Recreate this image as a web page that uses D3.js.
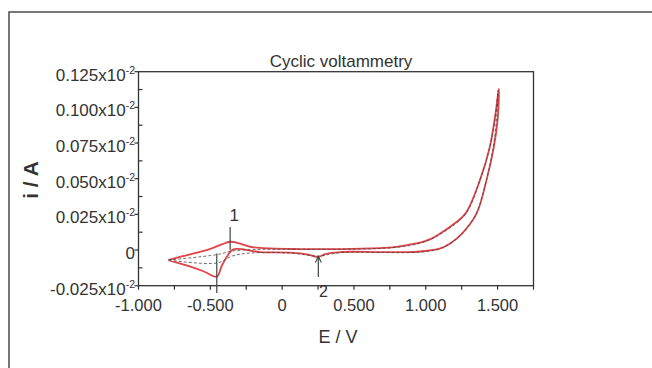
<!DOCTYPE html>
<html><head><meta charset="utf-8">
<script src="https://cdn.jsdelivr.net/npm/d3@7"></script>
<style>
html,body{margin:0;padding:0;background:#fff;}
text{font-family:"Liberation Sans",Arial,sans-serif;fill:#333;}
</style></head>
<body><svg id="c" width="652" height="368"></svg>
<script>
// Potential (V) and current (x10^-2 A) — red scan
const redE = [-0.792,-0.700,-0.600,-0.500,-0.420,-0.362,-0.306,-0.222,-0.083,0.126,0.405,0.684,0.780,0.870,0.960,1.040,1.103,1.186,1.277,1.377,1.446,1.486,1.509,
  1.500,1.474,1.423,1.354,1.254,1.172,1.102,0.942,0.684,0.405,0.300,0.252,0.182,0.056,-0.153,-0.340,-0.380,-0.420,-0.455,-0.540,-0.660,-0.792];
const redI = [-0.0070,-0.0045,-0.0020,0.0008,0.0040,0.0058,0.0049,0.0023,0.0011,0.0007,0.0007,0.0014,0.0020,0.0035,0.0052,0.0080,0.0117,0.0175,0.0257,0.0490,0.0723,0.0959,0.1132,
  0.0910,0.0723,0.0490,0.0257,0.0117,0.0047,0.0011,-0.0012,-0.0014,-0.0014,-0.0028,-0.0049,-0.0032,-0.0018,-0.0014,0.0005,-0.0040,-0.0110,-0.0187,-0.0152,-0.0110,-0.0070];
// second (dark) scan
const darkE = [-0.792,-0.453,-0.348,-0.153,0.126,0.684,0.894,0.998,1.103,1.277,1.374,1.444,1.486,1.503,
  1.493,1.469,1.420,1.350,1.249,1.165,1.089,0.942,0.405,0.252,0.056,-0.222,-0.348,-0.453,-0.792];
const darkI = [-0.0070,-0.0032,-0.0007,0.0004,0.0005,0.0011,0.0032,0.0060,0.0112,0.0252,0.0483,0.0714,0.0945,0.1120,
  0.0924,0.0714,0.0483,0.0252,0.0112,0.0042,0.0005,-0.0016,-0.0018,-0.0042,-0.0021,-0.0021,-0.0042,-0.0091,-0.0070];

const xTicks = [-1,-0.75,-0.5,-0.25,0,0.25,0.5,0.75,1,1.25,1.5,1.75];
const xLabelVals = [-1,-0.5,0,0.5,1,1.5];
const xLabels = ["-1.000","-0.500","0","0.500","1.000","1.500"];
const yMajor = [-0.025,0,0.025,0.05,0.075,0.1,0.125];
const yMinor = [-0.0125,0.0125,0.0375,0.0625,0.0875,0.1125];
const yLabels = ["-0.025","0","0.025","0.050","0.075","0.100","0.125"];
const yExp = ["x10","","x10","x10","x10","x10","x10"];
// peak markers
const peakLabels = ["1","2"];
const peakE = [-0.362,0.252];

const svg = d3.select("#c");
const x = d3.scaleLinear().domain([-1,1.75]).range([138.5,533.5]);
const y = d3.scaleLinear().domain([-0.025,0.125]).range([285.7,71.7]);

// outer frame
svg.append("rect").attr("x",9).attr("y",12).attr("width",700).attr("height",400)
  .attr("fill","none").attr("stroke","#555").attr("stroke-width",1.6);

// plot box
svg.append("rect").attr("x",x(-1)).attr("y",y(0.125)).attr("width",x(1.75)-x(-1)).attr("height",y(-0.025)-y(0.125))
  .attr("fill","none").attr("stroke","#333").attr("stroke-width",1.3);

// x ticks
svg.selectAll(".xt").data(xTicks).enter().append("line")
  .attr("x1",d=>x(d)).attr("x2",d=>x(d)).attr("y1",y(-0.025)).attr("y2",y(-0.025)+4)
  .attr("stroke","#333").attr("stroke-width",1.2);
svg.selectAll(".xl").data(xLabelVals).enter().append("text")
  .attr("x",d=>x(d)).attr("y",311).attr("text-anchor","middle").attr("font-size",16.5)
  .text((d,i)=>xLabels[i]);

// y ticks
svg.selectAll(".yt").data(yMajor).enter().append("line")
  .attr("x1",x(-1)-4).attr("x2",x(-1)).attr("y1",d=>y(d)).attr("y2",d=>y(d))
  .attr("stroke","#333").attr("stroke-width",1.2);
svg.selectAll(".ym").data(yMinor).enter().append("line")
  .attr("x1",x(-1)).attr("x2",x(-1)+4).attr("y1",d=>y(d)).attr("y2",d=>y(d))
  .attr("stroke","#333").attr("stroke-width",1.2);
const yl = svg.selectAll(".yl").data(yMajor).enter().append("text")
  .attr("x",135).attr("y",d=>y(d)+9).attr("text-anchor","end").attr("font-size",17);
yl.append("tspan").text((d,i)=>yLabels[i]+yExp[i]);
yl.filter((d,i)=>yExp[i]!=="").append("tspan").attr("dy",-7).attr("font-size",10.5).text("-2");

// title & axis labels
svg.append("text").attr("x",341).attr("y",67).attr("text-anchor","middle").attr("font-size",17).text("Cyclic voltammetry");
svg.append("text").attr("x",338).attr("y",343).attr("text-anchor","middle").attr("font-size",18).text("E / V");
svg.append("text").attr("transform","translate(38,180) rotate(-90)").attr("text-anchor","middle")
  .attr("font-size",21).attr("font-weight","bold").text("i / A");

// curves
const line = d3.line().x(d=>x(d[0])).y(d=>y(d[1])).curve(d3.curveCatmullRom.alpha(0.5));
const redPts = redE.map((e,i)=>[e,redI[i]]);
const darkPts = darkE.map((e,i)=>[e,darkI[i]]);
svg.append("path").attr("d",line(redPts)).attr("fill","none").attr("stroke","#e0454a").attr("stroke-width",1.8).attr("stroke-linejoin","round");
svg.append("path").attr("d",line(darkPts)).attr("fill","none").attr("stroke","#4a4444").attr("stroke-width",0.9).attr("stroke-dasharray","3,2").attr("opacity",0.85);

// peak markers
const mk = "#3b4640";
svg.append("line").attr("x1",x(peakE[0])).attr("x2",x(peakE[0])).attr("y1",227).attr("y2",y(0)).attr("stroke",mk).attr("stroke-width",1.2);
svg.append("text").attr("x",x(peakE[0])+4).attr("y",221).attr("text-anchor","middle").attr("font-size",17).text(peakLabels[0]);
svg.append("line").attr("x1",x(peakE[1])).attr("x2",x(peakE[1])).attr("y1",y(-0.0045)).attr("y2",277).attr("stroke",mk).attr("stroke-width",1.2);
svg.append("path").attr("d",`M${x(peakE[1])-3},${y(-0.0045)+6}L${x(peakE[1])},${y(-0.0045)}L${x(peakE[1])+3},${y(-0.0045)+6}`)
  .attr("fill","none").attr("stroke",mk).attr("stroke-width",1.1);
svg.append("text").attr("x",x(peakE[1])+5).attr("y",297).attr("text-anchor","middle").attr("font-size",16).text(peakLabels[1]);
// cathodic peak marker line
svg.append("line").attr("x1",x(-0.455)).attr("x2",x(-0.455)).attr("y1",y(-0.0025)).attr("y2",293).attr("stroke",mk).attr("stroke-width",1.2);
</script></body></html>
